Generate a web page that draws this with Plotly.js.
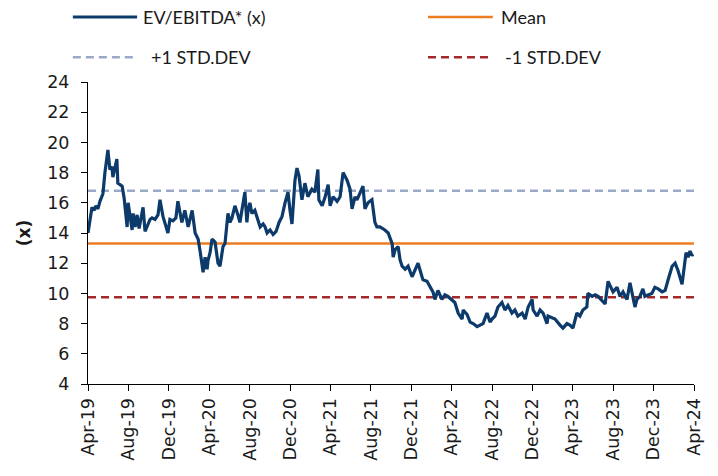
<!DOCTYPE html>
<html>
<head>
<meta charset="utf-8">
<script src="https://cdn.plot.ly/plotly-3.0.1.min.js"></script>
<style>html,body{margin:0;padding:0;background:#fff;}#chart{width:718px;height:476px;}</style>
</head>
<body>
<div id="chart"></div>
<script>
const dates = ['2019-04-01','2019-04-07','2019-04-13','2019-04-19','2019-04-25','2019-05-01','2019-05-07','2019-05-16','2019-05-22','2019-05-31',
'2019-06-06','2019-06-12','2019-06-15','2019-06-27','2019-06-30','2019-07-13','2019-07-19','2019-07-28','2019-07-31','2019-08-06',
'2019-08-12','2019-08-15','2019-08-21','2019-08-27','2019-09-02','2019-09-08','2019-09-14','2019-09-20','2019-09-29','2019-10-05',
'2019-10-11','2019-10-20','2019-10-29','2019-11-04','2019-11-13','2019-11-19','2019-11-28','2019-12-04','2019-12-13','2019-12-22',
'2019-12-28','2020-01-09','2020-01-18','2020-01-28','2020-02-09','2020-02-18','2020-02-27','2020-03-04','2020-03-10','2020-03-13',
'2020-03-19','2020-03-25','2020-03-28','2020-04-03','2020-04-09','2020-04-18','2020-04-27','2020-05-03','2020-05-12','2020-05-18',
'2020-05-27','2020-06-02','2020-06-08','2020-06-17','2020-06-26','2020-07-02','2020-07-08','2020-07-17','2020-07-23','2020-07-26',
'2020-08-01','2020-08-07','2020-08-16','2020-08-26','2020-09-01','2020-09-10','2020-09-16','2020-09-22','2020-10-01','2020-10-10',
'2020-10-19','2020-10-28','2020-11-06','2020-11-15','2020-11-24','2020-11-30','2020-12-06','2020-12-15','2020-12-21','2020-12-27',
'2021-01-05','2021-01-14','2021-01-23','2021-02-04','2021-02-13','2021-02-22','2021-02-25','2021-03-07','2021-03-16','2021-03-25',
'2021-03-31','2021-04-09','2021-04-21','2021-04-30','2021-05-09','2021-05-21','2021-05-30','2021-06-05','2021-06-14','2021-06-20',
'2021-06-29','2021-07-08','2021-07-14','2021-07-23','2021-08-04','2021-08-13','2021-08-19','2021-08-28','2021-09-12','2021-09-22',
'2021-10-04','2021-10-07','2021-10-13','2021-10-22','2021-10-28','2021-11-03','2021-11-12','2021-11-21','2021-12-03','2021-12-12',
'2021-12-21','2022-01-02','2022-01-05','2022-01-17','2022-01-26','2022-02-04','2022-02-10','2022-02-19','2022-03-03','2022-03-12',
'2022-03-21','2022-04-02','2022-04-11','2022-04-21','2022-05-03','2022-05-06','2022-05-18','2022-05-27','2022-06-05','2022-06-17',
'2022-06-26','2022-07-05','2022-07-17','2022-07-26','2022-08-01','2022-08-10','2022-08-19','2022-08-31','2022-09-09','2022-09-18',
'2022-09-30','2022-10-09','2022-10-18','2022-10-31','2022-11-09','2022-11-18','2022-11-30','2022-12-03','2022-12-15','2022-12-24',
'2023-01-02','2023-01-14','2023-01-17','2023-01-29','2023-02-07','2023-02-22','2023-03-03','2023-03-15','2023-03-24','2023-04-02',
'2023-04-14','2023-04-23','2023-05-02','2023-05-14','2023-05-17','2023-05-30','2023-06-08','2023-06-17','2023-06-29','2023-07-08',
'2023-07-17','2023-07-26','2023-08-01','2023-08-13','2023-08-22','2023-08-31','2023-09-12','2023-09-21','2023-10-06','2023-10-12',
'2023-10-21','2023-10-30','2023-11-05','2023-11-14','2023-11-26','2023-12-05','2023-12-15','2023-12-27','2024-01-05','2024-01-14',
'2024-01-26','2024-02-04','2024-02-13','2024-02-25','2024-03-02','2024-03-08','2024-03-14','2024-03-20','2024-03-26','2024-03-29'];

const evEbitda = [14.0,14.9,15.7,15.5,15.8,15.6,16.1,16.6,18.0,19.5,
18.2,18.4,17.7,18.9,17.3,17.1,16.3,14.4,16.0,15.1,
14.2,15.3,14.4,15.2,14.3,15.0,15.7,14.1,14.6,14.9,
15.0,14.9,15.2,16.2,15.1,14.6,14.0,14.9,14.8,15.0,
16.1,14.7,15.5,14.4,15.5,14.0,13.6,12.8,12.0,11.4,
12.4,11.6,12.2,12.7,13.6,13.4,12.0,11.8,13.1,13.3,
15.3,14.7,15.0,15.8,15.2,14.7,15.5,16.7,14.7,15.4,
16.0,15.3,15.5,14.7,14.4,14.6,14.4,14.0,14.2,13.9,
14.1,14.7,15.1,16.0,16.7,15.5,14.6,17.5,18.3,17.8,
16.2,17.3,16.4,16.9,16.7,18.2,16.2,15.8,16.4,17.2,
15.8,16.4,16.1,16.4,18.0,17.5,16.9,15.6,16.4,16.2,
16.7,17.1,15.6,16.0,16.2,14.7,14.4,14.4,14.2,14.0,
13.3,12.4,12.9,13.1,12.2,11.8,11.6,11.8,11.1,11.6,
12.0,11.1,10.9,10.8,10.4,10.1,9.6,10.2,9.6,9.9,
9.8,9.6,9.4,8.7,8.3,8.9,8.6,8.1,8.0,7.8,
7.9,8.0,8.7,8.1,8.3,8.5,9.1,9.4,8.9,9.2,
8.7,8.9,8.5,8.7,8.3,9.1,9.6,8.9,8.5,8.9,
8.7,8.0,8.5,8.4,8.3,7.9,7.7,8.0,7.9,7.7,
8.7,8.5,8.9,9.1,10.0,9.8,9.9,9.8,9.5,9.3,
10.8,10.3,10.1,10.4,9.8,10.1,9.6,10.7,9.1,9.6,
9.8,10.3,9.8,9.9,10.0,10.4,10.3,10.1,10.2,10.9,
11.8,12.0,11.5,10.6,11.8,12.7,12.4,12.8,12.5,12.6];

const refDates = ['2019-04-01','2024-04-01'];
const meanValue = 13.3;
const plusStd = 16.8;
const minusStd = 9.75;

const tickDates = ['2019-04-01','2019-08-01','2019-12-01','2020-04-01','2020-08-01','2020-12-01','2021-04-01','2021-08-01',
'2021-12-01','2022-04-01','2022-08-01','2022-12-01','2023-04-01','2023-08-01','2023-12-01','2024-04-01'];
const tickLabels = ['Apr-19','Aug-19','Dec-19','Apr-20','Aug-20','Dec-20','Apr-21','Aug-21',
'Dec-21','Apr-22','Aug-22','Dec-22','Apr-23','Aug-23','Dec-23','Apr-24'];

const seriesNames = ['EV/EBITDA* (x)','Mean','+1 STD.DEV','-1 STD.DEV'];
const colors = {ev:'#0c3a6b', mean:'#ee7d22', plus:'#9ba9c8', minus:'#a3282a'};
const dashPat = '8px,5px';

const traces = [
  {x: refDates, y: [plusStd, plusStd], mode:'lines', line:{color:colors.plus, width:2.5, dash:dashPat}, name:seriesNames[2]},
  {x: refDates, y: [minusStd, minusStd], mode:'lines', line:{color:colors.minus, width:2.5, dash:dashPat}, name:seriesNames[3]},
  {x: refDates, y: [meanValue, meanValue], mode:'lines', line:{color:colors.mean, width:2.5}, name:seriesNames[1]},
  {x: dates, y: evEbitda, mode:'lines', line:{color:colors.ev, width:3.2}, name:seriesNames[0]}
];

const legFont = {family:'Lato, "Noto Sans", sans-serif', size:18, color:'#1a1a1a'};
const row1 = 1.215, row2 = 1.082;
const legItems = [
  {x0:-0.025, x1:0.081, y:row1, color:colors.ev, dash:'solid', w:3, tx:0.088, text:seriesNames[0]},
  {x0:0.561, x1:0.668, y:row1, color:colors.mean, dash:'solid', w:2.5, tx:0.678, text:seriesNames[1]},
  {x0:-0.025, x1:0.081, y:row2, color:colors.plus, dash:dashPat, w:2.5, tx:0.100, text:seriesNames[2]},
  {x0:0.561, x1:0.668, y:row2, color:colors.minus, dash:dashPat, w:2.5, tx:0.684, text:seriesNames[3]}
];
const shapes = legItems.map(it => ({type:'line', xref:'paper', yref:'paper', x0:it.x0, x1:it.x1, y0:it.y, y1:it.y,
  line:{color:it.color, width:it.w, dash:it.dash}}));
const annotations = legItems.map(it => ({xref:'paper', yref:'paper', x:it.tx, y:it.y, xanchor:'left', yanchor:'middle',
  text:it.text, showarrow:false, font:legFont}));

const tickFont = {family:'"DejaVu Sans", Verdana, sans-serif', size:17.5, color:'#1a1a1a'};
const layout = {
  width:718, height:476,
  margin:{l:88, r:24, t:82, b:92},
  paper_bgcolor:'#ffffff', plot_bgcolor:'#ffffff',
  showlegend:false,
  xaxis:{type:'date', range:['2019-04-01','2024-04-01'], tickmode:'array', tickvals:tickDates, ticktext:tickLabels,
    tickangle:-90, tickfont:tickFont, showgrid:false, zeroline:false, showline:true, linecolor:'#000', linewidth:1,
    ticks:'outside', ticklen:6, tickcolor:'#000', tickwidth:1},
  yaxis:{range:[4,24], dtick:2, tick0:0, tickfont:tickFont, showgrid:false, zeroline:false, showline:true,
    linecolor:'#000', linewidth:1, ticks:'outside', ticklen:6, tickcolor:'#000', tickwidth:1, ticklabelstandoff:8,
    title:{text:'<b>(x)</b>', font:{family:'"DejaVu Sans", Verdana, sans-serif', size:17, color:'#1a1a1a'}, standoff:12}},
  shapes:shapes,
  annotations:annotations
};
Plotly.newPlot('chart', traces, layout, {displayModeBar:false, staticPlot:true});
</script>
</body>
</html>
